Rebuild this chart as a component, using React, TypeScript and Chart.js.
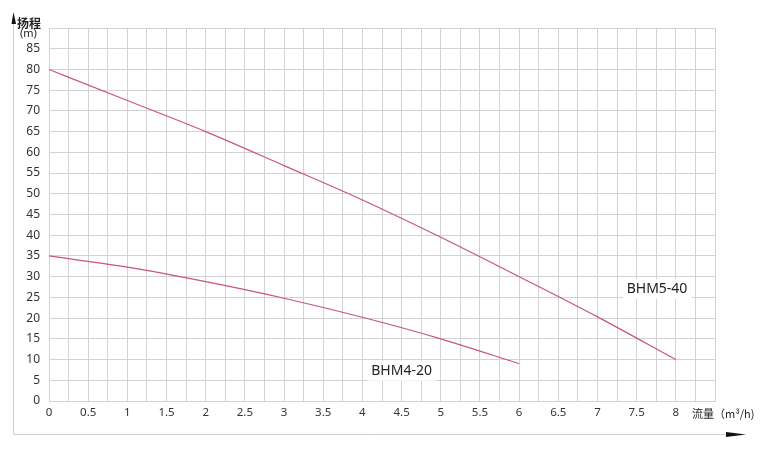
import React, { useEffect, useRef } from "react";
import { Chart, registerables } from "chart.js";

Chart.register(...registerables);

const flowA = [0, 1, 2, 3, 4, 5, 6, 7, 8];
const headA = [80, 72.5, 65, 56.8, 48.5, 39.5, 30, 20.3, 10];
const flowB = [0, 1, 2, 3, 4, 5, 6];
const headB = [35, 32.3, 28.8, 24.8, 20.2, 15, 9];
const seriesNames = ["BHM5-40", "BHM4-20"];
const labelX = [7.76, 4.5];
const labelY = [27, 7.3];
const yTitle = ["扬程", "(m)"];
const xTitle = "流量（m³/h)";

const LINE = "#c9576e";
const GRID = "#d2d2d2";
const FONT = "'Noto Sans', 'Noto Sans CJK SC', sans-serif";

const decor = {
  id: "decor",
  afterDraw(chart: any) {
    const ctx = chart.ctx;
    const xs = chart.scales.x;
    const ys = chart.scales.y;
    ctx.save();
    ctx.strokeStyle = "#cfcfcf";
    ctx.lineWidth = 1;
    ctx.beginPath();
    ctx.moveTo(13.5, 22);
    ctx.lineTo(13.5, 434.5);
    ctx.lineTo(728, 434.5);
    ctx.stroke();
    ctx.fillStyle = "#111";
    ctx.beginPath();
    ctx.moveTo(13.5, 12);
    ctx.lineTo(16, 24);
    ctx.lineTo(11.5, 24);
    ctx.closePath();
    ctx.fill();
    ctx.beginPath();
    ctx.moveTo(746, 434.5);
    ctx.lineTo(726, 432);
    ctx.lineTo(726, 437);
    ctx.closePath();
    ctx.fill();
    ctx.fillStyle = "#222";
    ctx.textBaseline = "middle";
    ctx.textAlign = "left";
    ctx.font = `bold 12px 'Noto Sans CJK SC', sans-serif`;
    ctx.fillText(yTitle[0], 17, 23);
    ctx.font = `11px ${FONT}`;
    ctx.fillText(yTitle[1], 20, 34);
    ctx.font = `11px 'Noto Sans CJK SC', sans-serif`;
    ctx.fillText(xTitle, 692, 414);
    ctx.font = `14px ${FONT}`;
    ctx.textAlign = "center";
    for (let i = 0; i < seriesNames.length; i++) {
      const px = xs.getPixelForValue(labelX[i]);
      const py = ys.getPixelForValue(labelY[i]);
      const w = ctx.measureText(seriesNames[i]).width;
      ctx.fillStyle = "#fff";
      ctx.fillRect(px - w / 2 - 4, py - 10, w + 8, 20);
      ctx.fillStyle = "#222";
      ctx.fillText(seriesNames[i], px, py);
    }
    ctx.restore();
  },
};

export default function App() {
  const ref = useRef<HTMLCanvasElement>(null);
  useEffect(() => {
    const ctx = ref.current!;
    const chart = new Chart(ctx, {
      type: "line",
      data: {
        datasets: [
          {
            label: seriesNames[0],
            data: flowA.map((x, i) => ({ x, y: headA[i] })),
            borderColor: LINE,
            borderWidth: 1.2,
            pointRadius: 0,
            cubicInterpolationMode: "monotone",
          },
          {
            label: seriesNames[1],
            data: flowB.map((x, i) => ({ x, y: headB[i] })),
            borderColor: LINE,
            borderWidth: 1.2,
            pointRadius: 0,
            cubicInterpolationMode: "monotone",
          },
        ],
      },
      options: {
        animation: false,
        responsive: false,
        maintainAspectRatio: false,
        layout: { padding: { left: 0, top: 28, right: 50, bottom: 0 } },
        plugins: { legend: { display: false }, tooltip: { enabled: false } },
        scales: {
          x: {
            type: "linear",
            min: 0,
            max: 8.5,
            afterFit: (s: any) => {
              s.height = 53;
            },
            grid: { color: GRID, drawTicks: false },
            border: { color: GRID },
            ticks: {
              stepSize: 0.25,
              autoSkip: false,
              maxRotation: 0,
              padding: 5,
              color: "#333",
              font: { size: 11.5, family: FONT },
              callback: (v: any) => {
                const n = Number(v);
                if (n > 8.25) return "";
                return Math.abs(n * 2 - Math.round(n * 2)) < 1e-6 ? String(Math.round(n * 2) / 2) : "";
              },
            },
          },
          y: {
            min: 0,
            max: 90,
            afterFit: (s: any) => {
              s.width = 49;
            },
            grid: { color: GRID, drawTicks: false },
            border: { color: GRID },
            ticks: {
              stepSize: 5,
              padding: 9,
              color: "#333",
              font: { size: 12, family: FONT },
              callback: (v: any) => (Number(v) >= 90 ? "" : String(v)),
            },
          },
        },
      },
      plugins: [decor],
    } as any);
    return () => chart.destroy();
  }, []);
  return (
    <div style={{ position: "fixed", left: 0, top: 0, width: 765, height: 454, background: "#fff" }}>
      <canvas ref={ref} width={765} height={454} style={{ width: 765, height: 454 }} />
    </div>
  );
}
